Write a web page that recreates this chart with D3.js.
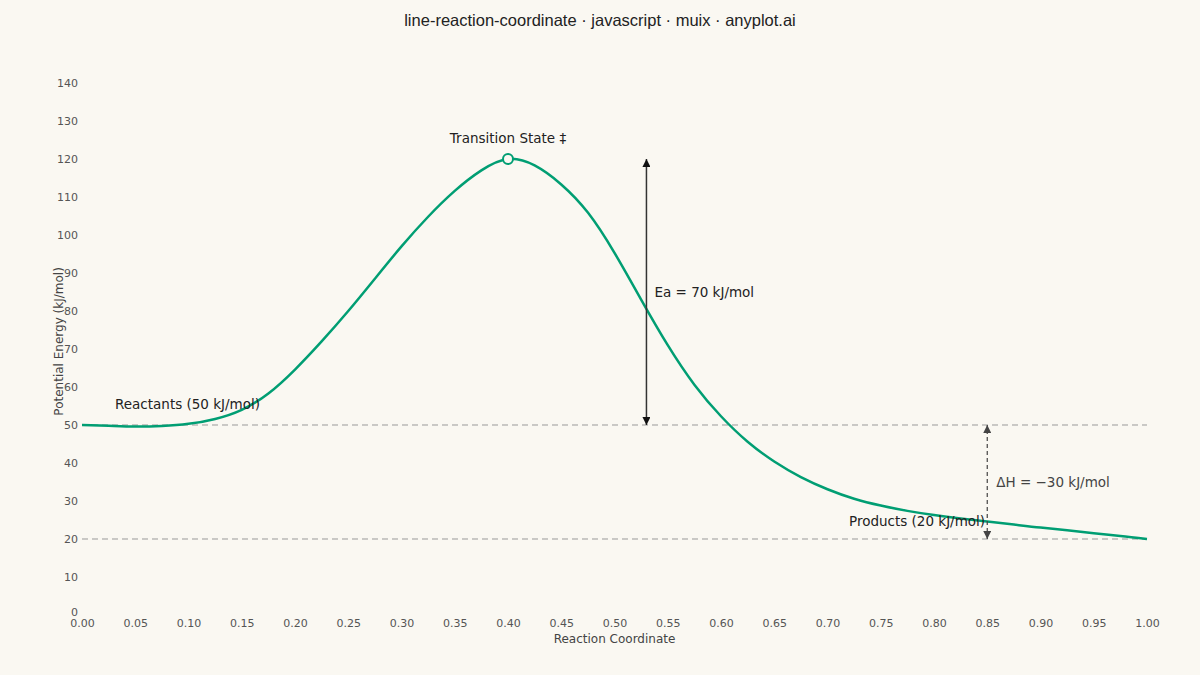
<!DOCTYPE html>
<html>
<head>
<meta charset="utf-8">
<script src="https://cdn.jsdelivr.net/npm/d3@7"></script>
<style>
  html, body { margin: 0; padding: 0; background: #faf8f2; }
  svg { display: block; }
</style>
</head>
<body>
<svg id="chart" width="1200" height="675"></svg>
<script>
// ---- data ----
const coord = [0.000, 0.025, 0.050, 0.075, 0.100, 0.125, 0.150, 0.175, 0.200, 0.225,
               0.250, 0.275, 0.300, 0.325, 0.350, 0.375, 0.400, 0.425, 0.450, 0.475,
               0.500, 0.525, 0.550, 0.575, 0.600, 0.625, 0.650, 0.675, 0.700, 0.725,
               0.750, 0.775, 0.800, 0.825, 0.850, 0.875, 0.900, 0.925, 0.950, 0.975, 1.000];
const energy = [50.0, 49.8, 49.6, 49.75, 50.3, 51.6, 54.0, 58.3, 64.6, 72.0,
                80.0, 88.5, 97.0, 104.8, 111.6, 117.0, 120.0, 118.3, 113.3, 105.9,
                95.3, 83.0, 71.0, 60.6, 52.3, 45.6, 40.4, 36.3, 33.1, 30.6,
                28.8, 27.4, 26.3, 25.4, 24.6, 23.8, 23.0, 22.3, 21.5, 20.8, 20.0];
const xTicks = [0, 0.05, 0.1, 0.15, 0.2, 0.25, 0.3, 0.35, 0.4, 0.45, 0.5,
                0.55, 0.6, 0.65, 0.7, 0.75, 0.8, 0.85, 0.9, 0.95, 1.0];
const yTicks = [0, 10, 20, 30, 40, 50, 60, 70, 80, 90, 100, 110, 120, 130, 140];
const reactantE = 50, productE = 20, tsX = 0.40, tsE = 120;
const eaX = 0.53, dhX = 0.85;

// ---- layout ----
const W = 1200, H = 675;
const bg = "#faf8f2";
const svg = d3.select("#chart");
svg.append("rect").attr("width", W).attr("height", H).attr("fill", bg);

const x = d3.scaleLinear().domain([0, 1]).range([82, 1147]);
const y = d3.scaleLinear().domain([0, 140]).range([615, 83]);
const green = "#009e73";
const tickFont = "'DejaVu Sans', sans-serif";

// title
svg.append("text").attr("x", 600).attr("y", 26).attr("text-anchor", "middle")
  .attr("font-family", "'Liberation Sans', Arial, sans-serif").attr("font-size", 16.5)
  .attr("fill", "#222").text("line-reaction-coordinate · javascript · muix · anyplot.ai");

// axes (labels only)
const xAxis = svg.append("g").attr("transform", `translate(0,${y(0)})`)
  .call(d3.axisBottom(x).tickValues(xTicks).tickFormat(d3.format(".2f")).tickSize(0).tickPadding(4));
xAxis.select(".domain").remove();
xAxis.selectAll("text").attr("font-family", tickFont).attr("font-size", 11).attr("fill", "#555");

const yAxis = svg.append("g").attr("transform", `translate(${x(0)},0)`)
  .call(d3.axisLeft(y).tickValues(yTicks).tickFormat(d3.format("d")).tickSize(0).tickPadding(4));
yAxis.select(".domain").remove();
yAxis.selectAll("text").attr("font-family", tickFont).attr("font-size", 11).attr("fill", "#555");
yAxis.selectAll(".tick").filter(d => d === 0).select("text").attr("dy", "0.05em");

svg.append("text").attr("x", x(0.5)).attr("y", 643).attr("text-anchor", "middle")
  .attr("font-family", tickFont).attr("font-size", 12).attr("fill", "#444")
  .text("Reaction Coordinate");
svg.append("text").attr("transform", `translate(63,${y(72)}) rotate(-90)`)
  .attr("text-anchor", "middle").attr("font-family", tickFont).attr("font-size", 12)
  .attr("fill", "#444").text("Potential Energy (kJ/mol)");

// reference dashed lines
[reactantE, productE].forEach(v => {
  svg.append("line").attr("x1", x(0)).attr("x2", x(1)).attr("y1", y(v)).attr("y2", y(v))
    .attr("stroke", "#999").attr("stroke-width", 1).attr("stroke-dasharray", "6,4");
});

// arrow markers
const defs = svg.append("defs");
function marker(id, color) {
  defs.append("marker").attr("id", id).attr("viewBox", "0 0 10 10")
    .attr("refX", 10).attr("refY", 5).attr("markerWidth", 8).attr("markerHeight", 8)
    .attr("markerUnits", "userSpaceOnUse").attr("orient", "auto-start-reverse")
    .append("path").attr("d", "M0,0 L10,5 L0,10 z").attr("fill", color);
}
marker("arrBlack", "#111");
marker("arrGrey", "#444");

// curve
const pts = coord.map((c, i) => [c, energy[i]]);
const line = d3.line().x(d => x(d[0])).y(d => y(d[1])).curve(d3.curveNatural);
svg.append("path").datum(pts).attr("d", line).attr("fill", "none")
  .attr("stroke", green).attr("stroke-width", 2.5);

// Ea arrow
svg.append("line").attr("x1", x(eaX)).attr("x2", x(eaX))
  .attr("y1", y(reactantE)).attr("y2", y(tsE))
  .attr("stroke", "#333").attr("stroke-width", 1.5)
  .attr("marker-start", "url(#arrBlack)").attr("marker-end", "url(#arrBlack)");
svg.append("text").attr("x", x(eaX) + 8).attr("y", y(85)).attr("dy", "0.35em")
  .attr("font-family", tickFont).attr("font-size", 13.5).attr("fill", "#222")
  .text("Ea = 70 kJ/mol");

// dH arrow
svg.append("line").attr("x1", x(dhX)).attr("x2", x(dhX))
  .attr("y1", y(productE)).attr("y2", y(reactantE))
  .attr("stroke", "#444").attr("stroke-width", 1.2).attr("stroke-dasharray", "4,3")
  .attr("marker-start", "url(#arrGrey)").attr("marker-end", "url(#arrGrey)");
svg.append("text").attr("x", x(dhX) + 9).attr("y", y(35)).attr("dy", "0.35em")
  .attr("font-family", tickFont).attr("font-size", 13.5).attr("fill", "#444")
  .text("ΔH = −30 kJ/mol");

// transition state marker
svg.append("circle").attr("cx", x(tsX)).attr("cy", y(tsE)).attr("r", 5)
  .attr("fill", bg).attr("stroke", green).attr("stroke-width", 2);
svg.append("text").attr("x", x(tsX)).attr("y", y(125.5)).attr("dy", "0.35em")
  .attr("text-anchor", "middle").attr("font-family", tickFont).attr("font-size", 13.5)
  .attr("fill", "#222").text("Transition State ‡");

// reactants / products labels
svg.append("text").attr("x", x(0.031)).attr("y", y(55.5)).attr("dy", "0.35em")
  .attr("font-family", tickFont).attr("font-size", 13.5).attr("fill", "#222")
  .text("Reactants (50 kJ/mol)");
svg.append("text").attr("x", x(0.848)).attr("y", y(24.6)).attr("dy", "0.35em")
  .attr("text-anchor", "end").attr("font-family", tickFont).attr("font-size", 13.5)
  .attr("fill", "#222").text("Products (20 kJ/mol)");
</script>
</body>
</html>
